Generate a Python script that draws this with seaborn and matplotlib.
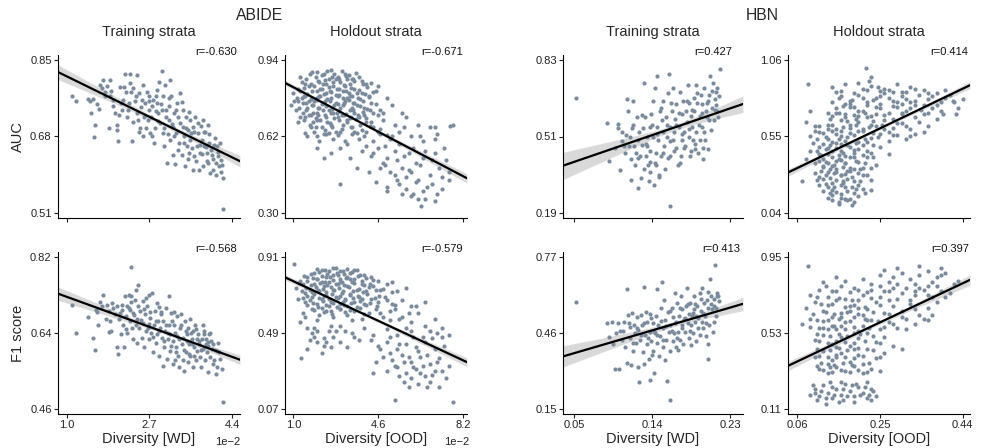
import matplotlib
matplotlib.use("Agg")
import matplotlib.pyplot as plt
import pandas as pd
import seaborn as sns

sns.set_style("ticks")
plt.rcParams['font.family'] = ['Liberation Sans', 'DejaVu Sans']

# ---------------- data (x = diversity, y = score) ----------------
# ABIDE diversity values are given in units of 1e-2
abide_auc_train = [(1.12,0.769),(1.19,0.758),(1.44,0.763),(1.47,0.760),(1.55,0.763),(1.49,0.733),(1.58,0.706),(1.57,0.679),(1.68,0.795),(1.72,0.787),(1.67,0.741),(1.75,0.806),(1.79,0.780),(1.83,0.792),(1.86,0.700),(1.89,0.806),(1.89,0.769),(1.92,0.782),(1.96,0.761),(1.99,0.732),(2.03,0.706),(2.03,0.695),(2.06,0.669),(2.09,0.791),(2.11,0.754),(2.13,0.739),(2.16,0.761),(2.20,0.819),(2.22,0.778),(2.23,0.724),(2.27,0.754),(2.30,0.819),(2.31,0.800),(2.33,0.780),(2.37,0.787),(2.35,0.669),(2.40,0.760),(2.44,0.732),(2.45,0.817),(2.47,0.717),(2.49,0.776),(2.50,0.698),(2.54,0.761),(2.56,0.680),(2.57,0.795),(2.61,0.754),(2.64,0.780),(2.66,0.717),(2.68,0.739),(2.70,0.769),(2.71,0.687),(2.74,0.724),(2.76,0.747),(2.78,0.761),(2.79,0.665),(2.81,0.698),(2.85,0.754),(2.86,0.783),(2.88,0.732),(2.90,0.802),(2.92,0.710),(2.95,0.826),(2.95,0.739),(2.97,0.687),(2.98,0.769),(3.00,0.658),(3.02,0.795),(3.04,0.724),(3.05,0.622),(3.09,0.717),(3.11,0.747),(3.12,0.673),(3.13,0.806),(3.15,0.769),(3.18,0.639),(3.19,0.702),(3.20,0.732),(3.22,0.619),(3.24,0.687),(3.26,0.754),(3.29,0.724),(3.31,0.665),(3.33,0.776),(3.36,0.639),(3.38,0.702),(3.39,0.739),(3.41,0.680),(3.43,0.614),(3.45,0.724),(3.46,0.658),(3.50,0.695),(3.52,0.643),(3.53,0.717),(3.54,0.673),(3.59,0.606),(3.60,0.702),(3.61,0.636),(3.63,0.723),(3.67,0.658),(3.70,0.687),(3.72,0.606),(3.74,0.643),(3.75,0.704),(3.77,0.673),(3.79,0.614),(3.80,0.717),(3.82,0.658),(3.84,0.691),(3.87,0.643),(3.89,0.706),(3.91,0.621),(3.93,0.665),(3.94,0.599),(3.98,0.639),(4.01,0.606),(4.04,0.676),(4.06,0.595),(4.08,0.658),(4.11,0.636),(4.13,0.614),(4.16,0.628),(4.18,0.617),(4.21,0.588),(4.20,0.519),
(1.62,0.752),(1.78,0.770),(1.95,0.748),(2.08,0.728),(2.18,0.790),(2.26,0.740),(2.36,0.712),(2.42,0.771),(2.52,0.745),(2.58,0.723),(2.63,0.700),(2.69,0.758),(2.75,0.680),(2.83,0.737),(2.87,0.715),(2.93,0.752),(2.99,0.700),(3.03,0.740),(3.07,0.686),(3.10,0.765),(3.16,0.707),(3.21,0.680),(3.25,0.740),(3.28,0.650),(3.32,0.710),(3.37,0.757),(3.40,0.666),(3.44,0.700),(3.48,0.630),(3.51,0.735),(3.56,0.688),(3.58,0.655),(3.62,0.690),(3.66,0.625),(3.69,0.710),(3.73,0.662),(3.78,0.640),(3.81,0.690),(3.85,0.656),(3.88,0.625),(3.92,0.685),(3.96,0.650),(4.00,0.630),(4.03,0.660),(4.07,0.620),(4.10,0.645),(4.14,0.665),(4.17,0.600),(2.48,0.690),(2.84,0.770)]

abide_f1_train = [(1.12,0.707),(1.19,0.641),(1.44,0.677),(1.55,0.629),(1.58,0.600),(1.60,0.695),(1.65,0.660),(1.68,0.713),(1.72,0.705),(1.75,0.729),(1.82,0.707),(1.86,0.691),(1.86,0.643),(1.89,0.668),(1.92,0.645),(1.96,0.699),(1.99,0.684),(2.03,0.703),(2.04,0.606),(2.06,0.590),(2.09,0.688),(2.11,0.637),(2.13,0.707),(2.16,0.660),(2.18,0.606),(2.20,0.727),(2.22,0.680),(2.23,0.703),(2.24,0.641),(2.27,0.730),(2.29,0.668),(2.30,0.695),(2.32,0.713),(2.33,0.727),(2.33,0.797),(2.35,0.653),(2.37,0.625),(2.38,0.682),(2.40,0.719),(2.42,0.742),(2.44,0.617),(2.45,0.672),(2.47,0.754),(2.47,0.703),(2.49,0.653),(2.50,0.691),(2.54,0.629),(2.56,0.715),(2.57,0.664),(2.59,0.606),(2.61,0.684),(2.63,0.645),(2.64,0.703),(2.68,0.662),(2.70,0.730),(2.70,0.625),(2.71,0.676),(2.74,0.641),(2.76,0.734),(2.78,0.594),(2.79,0.660),(2.81,0.691),(2.83,0.617),(2.85,0.637),(2.86,0.711),(2.88,0.668),(2.90,0.586),(2.92,0.653),(2.93,0.684),(2.95,0.629),(2.97,0.563),(2.98,0.668),(3.00,0.606),(3.02,0.645),(3.04,0.699),(3.05,0.579),(3.07,0.625),(3.09,0.727),(3.11,0.660),(3.12,0.598),(3.13,0.637),(3.15,0.688),(3.18,0.567),(3.19,0.621),(3.20,0.660),(3.22,0.575),(3.24,0.606),(3.26,0.680),(3.27,0.633),(3.29,0.586),(3.31,0.559),(3.33,0.653),(3.34,0.684),(3.36,0.614),(3.38,0.575),(3.39,0.629),(3.41,0.551),(3.43,0.668),(3.45,0.594),(3.46,0.637),(3.48,0.571),(3.50,0.653),(3.52,0.614),(3.53,0.672),(3.54,0.586),(3.57,0.625),(3.59,0.559),(3.60,0.645),(3.61,0.606),(3.63,0.660),(3.65,0.575),(3.67,0.625),(3.68,0.598),(3.70,0.637),(3.72,0.614),(3.74,0.582),(3.75,0.559),(3.77,0.625),(3.79,0.660),(3.80,0.602),(3.82,0.637),(3.84,0.575),(3.86,0.614),(3.87,0.594),(3.89,0.547),(3.91,0.618),(3.93,0.637),(3.94,0.582),(3.95,0.641),(3.98,0.602),(4.00,0.567),(4.01,0.614),(4.02,0.575),(4.06,0.543),(4.08,0.559),(4.09,0.598),(4.11,0.617),(4.15,0.579),(4.18,0.555),(4.20,0.476),
(1.62,0.690),(1.80,0.672),(1.94,0.712),(2.07,0.672),(2.14,0.694),(2.21,0.650),(2.28,0.700),(2.36,0.688),(2.43,0.660),(2.52,0.670),(2.58,0.697),(2.66,0.652),(2.72,0.690),(2.78,0.630),(2.84,0.668),(2.89,0.645),(2.94,0.690),(2.99,0.622),(3.03,0.660),(3.08,0.640),(3.14,0.610),(3.17,0.668),(3.22,0.640),(3.25,0.595),(3.30,0.625),(3.35,0.660),(3.40,0.600),(3.44,0.645),(3.47,0.620),(3.51,0.590),(3.55,0.640),(3.58,0.615),(3.62,0.585),(3.66,0.650),(3.71,0.622),(3.76,0.600),(3.81,0.645),(3.85,0.625),(3.90,0.610),(3.96,0.620),(4.04,0.600),(4.12,0.595),(2.62,0.722),(2.90,0.702),(3.20,0.690)]

abide_auc_holdout = [(1.3,0.87),(1.7,0.88),(2.0,0.89),(2.3,0.88),(2.6,0.90),(2.9,0.87),(3.2,0.88),(3.5,0.86),(3.8,0.87),(2.1,0.85),(2.5,0.86),(3.0,0.85),(3.4,0.84),(4.1,0.84),(1.5,0.84),(4.6,0.83),
(1.0,0.80),(1.2,0.82),(1.5,0.79),(1.8,0.81),(2.0,0.78),(2.2,0.82),(2.4,0.80),(2.7,0.83),(2.9,0.79),(3.1,0.81),(3.3,0.78),(3.6,0.82),(3.9,0.80),(4.2,0.79),(4.5,0.81),(5.0,0.78),(2.6,0.78),(3.5,0.79),(1.9,0.83),
(0.9,0.75),(1.1,0.73),(1.4,0.76),(1.6,0.74),(1.9,0.77),(2.1,0.74),(2.3,0.76),(2.5,0.73),(2.8,0.76),(3.0,0.74),(3.2,0.77),(3.4,0.73),(3.7,0.75),(4.0,0.74),(4.3,0.76),(4.7,0.73),(5.2,0.75),(5.6,0.72),(2.0,0.72),(2.7,0.72),(3.6,0.72),
(1.2,0.68),(1.5,0.70),(1.7,0.67),(2.0,0.69),(2.2,0.66),(2.4,0.70),(2.6,0.67),(2.9,0.70),(3.1,0.67),(3.3,0.69),(3.5,0.66),(3.8,0.70),(4.1,0.68),(4.4,0.66),(4.8,0.69),(5.3,0.67),(5.8,0.70),(6.3,0.67),(7.0,0.66),(7.8,0.67),(6.8,0.66),
(1.6,0.62),(1.9,0.64),(2.1,0.60),(2.4,0.63),(2.7,0.61),(3.0,0.64),(3.2,0.60),(3.5,0.63),(3.8,0.61),(4.1,0.64),(4.4,0.60),(4.7,0.63),(5.1,0.61),(5.5,0.64),(6.0,0.62),(6.5,0.60),(7.1,0.63),(3.3,0.59),
(2.0,0.57),(2.6,0.55),(3.0,0.57),(3.4,0.53),(3.9,0.56),(4.3,0.54),(4.6,0.57),(5.0,0.53),(5.3,0.56),(5.7,0.54),(6.1,0.57),(6.5,0.53),(7.0,0.55),(7.4,0.57),(2.3,0.53),(4.8,0.51),
(3.7,0.49),(4.2,0.47),(4.9,0.50),(5.3,0.46),(5.6,0.49),(6.0,0.47),(6.4,0.50),(6.8,0.46),(7.2,0.49),(7.6,0.47),(5.8,0.45),(2.98,0.42),
(4.5,0.43),(5.0,0.41),(5.4,0.44),(5.8,0.40),(6.2,0.43),(6.5,0.39),(6.9,0.42),(7.3,0.40),(5.6,0.38),(6.1,0.38),(7.6,0.44),
(6.3,0.36),(7.0,0.35),(6.43,0.33),
(1.35,0.78),(1.65,0.77),(1.85,0.75),(2.15,0.79),(2.35,0.77),(2.55,0.81),(2.75,0.75),(2.95,0.82),(3.15,0.76),(3.35,0.80),(3.55,0.76),(3.75,0.78),(1.75,0.71),(2.05,0.71),(2.45,0.68),(2.85,0.72),(3.05,0.71),(3.45,0.70),(3.85,0.67),(2.25,0.84),(2.8,0.86),(3.3,0.86),(1.95,0.66),(2.3,0.63),(2.8,0.64),(3.6,0.64),(4.0,0.71),(4.4,0.72),(1.4,0.72),(1.2,0.77),
(1.8,0.889),(2.2,0.878),(2.45,0.893),(2.75,0.881),(3.05,0.896),(3.35,0.876),(3.65,0.887),
(1.55,0.861),(1.95,0.871),(2.35,0.858),(2.65,0.869),(2.95,0.859),(3.25,0.872),(3.55,0.862),(3.9,0.853),
(1.35,0.849),(1.75,0.838),(2.05,0.852),(2.4,0.841),(2.7,0.848),(3.15,0.836),(3.6,0.851),(3.95,0.839),(4.3,0.846),
(1.45,0.821),(1.65,0.832),(2.15,0.818),(2.5,0.829),(2.85,0.817),(3.2,0.831),(3.45,0.822),(3.8,0.814),(4.15,0.827),
(1.3,0.809),(1.6,0.798),(2.0,0.811),(2.3,0.796),(2.6,0.807),(2.95,0.794),(3.25,0.812),(3.7,0.801),(4.05,0.796),(4.4,0.808),
(1.15,0.781),(1.45,0.791),(1.75,0.779),(2.1,0.788),(2.45,0.776),(2.8,0.792),(3.1,0.781),(3.4,0.789),(3.85,0.777),(4.2,0.786),
(1.05,0.768),(1.55,0.759),(2.0,0.771),(2.2,0.757),(2.55,0.769),(2.9,0.758),(3.35,0.771),(3.6,0.761),(3.95,0.768),(4.5,0.757),
(1.25,0.741),(1.8,0.751),(2.05,0.738),(2.4,0.749),(2.65,0.737),(3.1,0.752),(3.5,0.74),(3.85,0.748),(4.15,0.736),
(1.55,0.729),(1.85,0.719),(2.25,0.731),(2.6,0.718),(2.95,0.728),(3.25,0.716),(3.55,0.732),(3.95,0.721),(4.25,0.729),(4.8,0.718),
(1.3,0.701),(1.65,0.711),(1.95,0.698),(2.35,0.709),(2.75,0.697),(3.15,0.712),(3.4,0.699),(3.75,0.708),(4.1,0.696),(4.6,0.709),
(1.45,0.689),(1.85,0.679),(2.15,0.691),(2.55,0.678),(2.95,0.688),(3.3,0.681),(3.65,0.692),(4.3,0.679),
(1.75,0.659),(2.35,0.648),(2.65,0.661),(3.05,0.651),(3.45,0.658),(3.9,0.646),(4.25,0.662),(4.7,0.65),
(1.5,0.634),(2.0,0.624),(2.5,0.636),(2.9,0.626),(3.7,0.633),(4.0,0.622),(4.6,0.637),(5.0,0.625),
(4.9,0.58),(5.2,0.62),(5.5,0.59),(5.9,0.55),(6.2,0.51),(6.6,0.56),(6.9,0.52),(7.3,0.45),(5.1,0.47),(5.5,0.42),(5.9,0.48),(6.3,0.44),(6.7,0.41),(7.1,0.38),(6.0,0.37),(6.6,0.36),(5.4,0.52),(4.7,0.49),(5.0,0.39),(7.5,0.52),(4.4,0.55),(4.1,0.58),(6.4,0.62),(7.66,0.665),(7.0,0.61),(5.7,0.66)]

abide_f1_holdout = [(1.03,0.87),(1.31,0.35),(5.32,0.12),(7.8,0.11),
(1.6,0.80),(1.9,0.82),(2.2,0.84),(2.5,0.83),(2.8,0.85),(3.1,0.83),(3.4,0.82),(3.7,0.84),(4.0,0.81),(2.0,0.79),(2.4,0.80),(2.7,0.81),(3.0,0.79),(3.3,0.80),(3.6,0.79),(4.3,0.80),(4.6,0.78),(5.2,0.77),(1.3,0.78),
(1.1,0.74),(1.4,0.76),(1.7,0.73),(1.9,0.76),(2.1,0.72),(2.3,0.75),(2.5,0.77),(2.7,0.73),(2.9,0.76),(3.1,0.72),(3.3,0.75),(3.5,0.77),(3.7,0.73),(3.9,0.76),(4.1,0.72),(4.4,0.75),(4.7,0.73),(5.0,0.76),(5.4,0.72),(5.8,0.74),(2.2,0.77),(3.0,0.77),(1.5,0.71),
(1.2,0.68),(1.5,0.66),(1.8,0.69),(2.0,0.65),(2.2,0.68),(2.4,0.70),(2.6,0.66),(2.8,0.69),(3.0,0.65),(3.2,0.68),(3.4,0.70),(3.6,0.66),(3.8,0.69),(4.0,0.65),(4.3,0.68),(4.6,0.66),(4.9,0.69),(5.2,0.65),(5.6,0.67),(6.0,0.64),(6.6,0.66),(2.5,0.64),(3.3,0.64),
(1.4,0.60),(1.8,0.62),(2.1,0.59),(2.4,0.61),(2.7,0.58),(3.0,0.62),(3.3,0.59),(3.6,0.61),(3.9,0.57),(4.2,0.60),(4.5,0.62),(4.8,0.58),(5.1,0.61),(5.5,0.57),(5.9,0.60),(2.0,0.56),(3.5,0.56),
(1.9,0.52),(2.5,0.50),(3.0,0.53),(3.5,0.49),(4.0,0.52),(4.4,0.48),(5.0,0.51),(5.4,0.48),(6.0,0.50),(6.5,0.47),(7.1,0.49),(1.7,0.45),(2.7,0.47),(3.8,0.45),
(4.6,0.42),(5.0,0.44),(5.4,0.40),(5.8,0.43),(6.2,0.41),(6.6,0.44),(7.0,0.40),(7.4,0.42),(4.8,0.36),(5.2,0.34),(5.6,0.37),(6.0,0.33),(6.4,0.36),(6.8,0.32),(7.2,0.35),(7.6,0.31),(5.0,0.28),(5.4,0.30),(5.8,0.27),(6.2,0.29),(6.6,0.25),(7.0,0.28),(5.7,0.22),(6.3,0.21),(6.7,0.19),(4.4,0.27),(1.6,0.40),(2.3,0.42),
(2.0,0.846),(2.35,0.836),(2.7,0.849),(3.0,0.834),(3.3,0.843),(3.6,0.837),
(1.75,0.818),(2.1,0.827),(2.45,0.814),(2.85,0.824),(3.15,0.816),(3.5,0.828),(3.85,0.813),
(1.45,0.803),(1.85,0.794),(2.2,0.806),(2.55,0.797),(2.9,0.808),(3.25,0.793),(3.75,0.804),(4.1,0.796),
(1.6,0.776),(2.0,0.786),(2.35,0.774),(2.7,0.784),(3.05,0.772),(3.4,0.787),(3.9,0.775),(4.4,0.783),
(1.25,0.764),(1.75,0.754),(2.15,0.766),(2.45,0.753),(2.8,0.763),(3.15,0.755),(3.6,0.767),(4.0,0.756),(4.25,0.762),
(1.55,0.736),(1.95,0.746),(2.25,0.734),(2.6,0.744),(2.95,0.737),(3.35,0.747),(3.8,0.733),(4.2,0.743),(4.8,0.735),
(1.35,0.724),(1.8,0.714),(2.05,0.726),(2.4,0.716),(2.75,0.727),(3.05,0.713),(3.55,0.723),(3.95,0.717),(4.5,0.725),(5.2,0.714),
(1.6,0.696),(1.9,0.706),(2.3,0.694),(2.65,0.705),(3.0,0.697),(3.4,0.707),(3.75,0.693),(4.15,0.704),(4.65,0.696),
(1.4,0.684),(1.7,0.674),(2.1,0.686),(2.5,0.676),(2.9,0.685),(3.2,0.673),(3.55,0.683),(3.9,0.677),(4.45,0.686),(5.0,0.675),
(1.85,0.656),(2.25,0.666),(2.7,0.654),(3.1,0.664),(3.45,0.657),(3.85,0.667),(4.25,0.655),
(1.6,0.644),(2.05,0.634),(2.4,0.646),(2.85,0.636),(3.15,0.645),(3.7,0.633),(4.1,0.643),(4.55,0.637),(5.3,0.645),
(1.9,0.616),(2.2,0.626),(2.6,0.614),(3.0,0.624),(3.4,0.617),(3.85,0.627),
(2.3,0.604),(2.65,0.594),(3.2,0.606),(4.0,0.596),(4.7,0.603),
(4.7,0.40),(5.1,0.38),(5.5,0.43),(5.9,0.36),(6.3,0.39),(6.7,0.37),(7.1,0.33),(5.3,0.31),(5.7,0.33),(6.1,0.30),(6.5,0.31),(6.9,0.26),(7.3,0.28),(5.5,0.25),(6.0,0.24),(6.4,0.27),(6.8,0.22),(7.5,0.24),(5.9,0.19),(7.2,0.19),(4.5,0.33),(5.1,0.47),(6.9,0.46),(7.3,0.47),(6.1,0.47),
(2.0,0.50),(2.6,0.53),(3.2,0.50),(3.6,0.47),(2.3,0.46),(3.0,0.44),(2.0,0.44),(4.3,0.45),(1.8,0.49),(3.3,0.41),
(5.3,0.62),(5.6,0.58),(6.0,0.55),(6.3,0.60),(6.6,0.53),(7.0,0.57),(7.3,0.52),(6.8,0.50),(5.8,0.52),(7.6,0.48),(5.1,0.56),(6.2,0.64),(1.6,0.52),(1.9,0.47),(2.4,0.44),(2.8,0.50),(1.3,0.55),(2.2,0.38),(1.5,0.58),(2.6,0.41)]

hbn_auc_train = [(0.052,0.671),(0.088,0.566),(0.090,0.409),(0.097,0.463),(0.100,0.561),(0.101,0.544),(0.103,0.369),(0.105,0.490),(0.107,0.470),(0.109,0.443),(0.110,0.517),(0.111,0.669),(0.112,0.617),(0.114,0.510),(0.115,0.416),(0.116,0.328),(0.117,0.544),(0.118,0.658),(0.119,0.470),(0.120,0.389),(0.121,0.443),(0.122,0.591),(0.123,0.496),(0.124,0.295),(0.125,0.530),(0.126,0.429),(0.127,0.335),(0.128,0.476),(0.129,0.544),(0.130,0.732),(0.131,0.375),(0.132,0.591),(0.133,0.429),(0.134,0.510),(0.134,0.470),(0.136,0.322),(0.137,0.550),(0.137,0.402),(0.138,0.362),(0.139,0.604),(0.141,0.658),(0.141,0.510),(0.142,0.308),(0.143,0.712),(0.144,0.443),(0.144,0.389),(0.145,0.550),(0.146,0.765),(0.147,0.496),(0.148,0.348),(0.149,0.617),(0.150,0.429),(0.151,0.577),(0.152,0.530),(0.153,0.658),(0.154,0.470),(0.155,0.375),(0.156,0.591),(0.157,0.510),(0.158,0.691),(0.159,0.772),(0.160,0.550),(0.161,0.218),(0.161,0.429),(0.163,0.617),(0.164,0.712),(0.164,0.496),(0.165,0.530),(0.166,0.584),(0.168,0.463),(0.168,0.644),(0.170,0.389),(0.171,0.550),(0.172,0.698),(0.173,0.429),(0.174,0.604),(0.175,0.496),(0.176,0.658),(0.177,0.530),(0.178,0.470),(0.179,0.617),(0.180,0.570),(0.181,0.725),(0.182,0.510),(0.183,0.651),(0.184,0.429),(0.185,0.597),(0.186,0.550),(0.187,0.496),(0.188,0.671),(0.188,0.617),(0.190,0.456),(0.191,0.725),(0.191,0.530),(0.192,0.651),(0.193,0.443),(0.195,0.597),(0.195,0.496),(0.196,0.685),(0.197,0.550),(0.198,0.644),(0.199,0.416),(0.200,0.712),(0.201,0.496),(0.202,0.617),(0.203,0.591),(0.204,0.456),(0.205,0.658),(0.206,0.685),(0.207,0.765),(0.208,0.537),(0.209,0.631),(0.210,0.732),(0.211,0.577),(0.213,0.665),(0.214,0.698),(0.215,0.712),(0.215,0.617),(0.216,0.591),(0.218,0.792),
(0.105,0.530),(0.113,0.470),(0.118,0.560),(0.124,0.420),(0.128,0.600),(0.133,0.480),(0.137,0.450),(0.140,0.560),(0.143,0.400),(0.146,0.520),(0.150,0.630),(0.153,0.440),(0.157,0.560),(0.160,0.490),(0.162,0.650),(0.165,0.450),(0.168,0.560),(0.171,0.610),(0.174,0.520),(0.177,0.460),(0.180,0.660),(0.183,0.540),(0.186,0.620),(0.189,0.480),(0.192,0.690),(0.194,0.560),(0.197,0.610),(0.200,0.530),(0.203,0.650),(0.206,0.580),(0.209,0.700),(0.212,0.620),(0.214,0.640),(0.217,0.680),(0.135,0.390),(0.148,0.340),(0.158,0.420),(0.172,0.400),(0.185,0.450),(0.199,0.460)]

hbn_f1_train = [(0.052,0.586),(0.088,0.499),(0.090,0.442),(0.093,0.505),(0.095,0.414),(0.097,0.312),(0.100,0.499),(0.102,0.312),(0.103,0.469),(0.105,0.433),(0.107,0.505),(0.109,0.401),(0.111,0.638),(0.111,0.338),(0.112,0.534),(0.114,0.440),(0.114,0.486),(0.116,0.329),(0.117,0.542),(0.118,0.388),(0.119,0.492),(0.120,0.459),(0.121,0.420),(0.122,0.525),(0.123,0.322),(0.124,0.472),(0.125,0.260),(0.126,0.433),(0.127,0.534),(0.128,0.492),(0.129,0.381),(0.130,0.646),(0.131,0.335),(0.132,0.453),(0.133,0.544),(0.134,0.414),(0.134,0.505),(0.136,0.355),(0.137,0.268),(0.137,0.466),(0.138,0.538),(0.139,0.427),(0.141,0.499),(0.141,0.388),(0.142,0.296),(0.143,0.459),(0.144,0.531),(0.145,0.638),(0.146,0.420),(0.147,0.492),(0.148,0.368),(0.149,0.446),(0.150,0.564),(0.151,0.668),(0.152,0.401),(0.153,0.479),(0.154,0.596),(0.155,0.512),(0.156,0.433),(0.157,0.264),(0.158,0.544),(0.159,0.466),(0.160,0.185),(0.161,0.388),(0.161,0.492),(0.163,0.564),(0.164,0.427),(0.164,0.525),(0.165,0.459),(0.166,0.623),(0.168,0.401),(0.168,0.505),(0.169,0.583),(0.170,0.466),(0.171,0.531),(0.172,0.433),(0.173,0.609),(0.174,0.492),(0.175,0.557),(0.176,0.414),(0.177,0.518),(0.178,0.466),(0.179,0.570),(0.180,0.642),(0.181,0.499),(0.182,0.538),(0.183,0.440),(0.184,0.583),(0.185,0.492),(0.186,0.531),(0.187,0.459),(0.188,0.557),(0.188,0.609),(0.190,0.505),(0.191,0.427),(0.191,0.531),(0.192,0.570),(0.193,0.479),(0.195,0.623),(0.195,0.453),(0.196,0.551),(0.197,0.505),(0.198,0.642),(0.199,0.479),(0.200,0.583),(0.201,0.531),(0.202,0.446),(0.203,0.596),(0.204,0.414),(0.205,0.629),(0.205,0.355),(0.206,0.492),(0.207,0.681),(0.208,0.609),(0.209,0.557),(0.210,0.466),(0.211,0.505),(0.211,0.570),(0.213,0.737),(0.214,0.531),(0.215,0.623),(0.215,0.609),(0.216,0.609),
(0.098,0.460),(0.106,0.470),(0.113,0.500),(0.118,0.420),(0.122,0.480),(0.127,0.450),(0.131,0.500),(0.135,0.440),(0.139,0.520),(0.142,0.470),(0.146,0.450),(0.150,0.510),(0.153,0.430),(0.156,0.490),(0.160,0.550),(0.163,0.470),(0.166,0.500),(0.169,0.440),(0.172,0.560),(0.175,0.480),(0.178,0.520),(0.181,0.580),(0.184,0.470),(0.187,0.540),(0.190,0.580),(0.193,0.520),(0.196,0.600),(0.199,0.540),(0.202,0.500),(0.205,0.560),(0.208,0.580),(0.211,0.600),(0.214,0.560),(0.217,0.590),(0.140,0.370),(0.155,0.350),(0.170,0.390),(0.185,0.410)]

hbn_auc_holdout = [(0.14,0.88),(0.17,0.90),(0.20,0.91),(0.23,0.89),(0.26,0.87),(0.29,0.90),(0.32,0.88),(0.35,0.86),(0.15,0.85),(0.22,0.86),(0.28,0.85),(0.085,0.90),(0.219,1.01),(0.23,0.95),
(0.14,0.78),(0.16,0.82),(0.18,0.79),(0.20,0.83),(0.22,0.78),(0.24,0.81),(0.26,0.84),(0.28,0.79),(0.30,0.82),(0.32,0.78),(0.34,0.83),(0.36,0.80),(0.38,0.84),(0.40,0.81),(0.418,0.79),(0.17,0.77),(0.25,0.77),
(0.09,0.72),(0.13,0.71),(0.15,0.74),(0.17,0.70),(0.19,0.75),(0.21,0.72),(0.23,0.69),(0.25,0.74),(0.27,0.71),(0.29,0.75),(0.31,0.72),(0.33,0.76),(0.35,0.70),(0.37,0.74),(0.39,0.72),(0.14,0.69),(0.20,0.69),
(0.08,0.65),(0.10,0.62),(0.14,0.63),(0.16,0.66),(0.18,0.61),(0.20,0.65),(0.22,0.68),(0.24,0.62),(0.26,0.66),(0.28,0.61),(0.30,0.64),(0.32,0.60),(0.34,0.65),(0.36,0.62),(0.15,0.60),(0.21,0.60),(0.17,0.68),
(0.09,0.55),(0.11,0.58),(0.13,0.53),(0.15,0.57),(0.17,0.52),(0.19,0.56),(0.21,0.59),(0.23,0.54),(0.25,0.57),(0.27,0.52),(0.29,0.56),(0.31,0.53),(0.33,0.57),(0.14,0.51),(0.20,0.51),(0.16,0.59),
(0.09,0.45),(0.11,0.48),(0.13,0.43),(0.15,0.47),(0.17,0.42),(0.19,0.46),(0.21,0.49),(0.23,0.44),(0.25,0.48),(0.27,0.43),(0.16,0.50),(0.12,0.50),(0.18,0.48),
(0.10,0.37),(0.12,0.40),(0.14,0.35),(0.16,0.39),(0.18,0.34),(0.20,0.38),(0.22,0.41),(0.24,0.36),(0.15,0.33),(0.19,0.41),(0.08,0.40),
(0.11,0.28),(0.13,0.31),(0.15,0.26),(0.17,0.30),(0.19,0.25),(0.21,0.29),(0.23,0.26),(0.14,0.24),(0.18,0.32),(0.071,0.25),
(0.13,0.21),(0.15,0.18),(0.17,0.21),(0.19,0.17),(0.21,0.20),(0.16,0.14),(0.18,0.13),(0.20,0.15),(0.14,0.16),(0.23,0.19),
(0.16,0.55),(0.18,0.63),(0.19,0.44),(0.20,0.72),(0.22,0.51),(0.17,0.37),(0.21,0.34),(0.15,0.71),(0.18,0.77),(0.13,0.60),(0.24,0.70),(0.16,0.29),(0.23,0.63),(0.26,0.60),(0.12,0.35),
(0.16,0.853),(0.19,0.842),(0.25,0.856),(0.30,0.844),
(0.155,0.806),(0.185,0.795),(0.21,0.808),(0.235,0.793),(0.27,0.804),
(0.165,0.756),(0.18,0.744),(0.22,0.757),(0.24,0.746),(0.28,0.754),(0.32,0.743),
(0.155,0.706),(0.19,0.694),(0.215,0.708),(0.26,0.695),(0.30,0.705),
(0.135,0.664),(0.175,0.653),(0.195,0.667),(0.235,0.655),(0.28,0.664),
(0.11,0.617),(0.13,0.626),(0.165,0.614),(0.195,0.627),(0.225,0.615),(0.255,0.624),
(0.10,0.584),(0.12,0.573),(0.14,0.586),(0.18,0.575),(0.20,0.587),(0.235,0.574),(0.27,0.583),
(0.105,0.536),(0.125,0.547),(0.155,0.534),(0.175,0.546),(0.215,0.535),(0.245,0.544),
(0.095,0.504),(0.135,0.494),(0.15,0.507),(0.175,0.493),(0.195,0.505),(0.235,0.495),
(0.105,0.456),(0.125,0.466),(0.16,0.454),(0.20,0.465),(0.22,0.455),
(0.115,0.424),(0.14,0.414),(0.155,0.426),(0.18,0.415),(0.21,0.425),(0.235,0.413),
(0.11,0.386),(0.13,0.375),(0.15,0.384),(0.17,0.374),(0.195,0.387),(0.215,0.376),
(0.12,0.344),(0.135,0.335),(0.165,0.346),(0.19,0.334),(0.23,0.343),
(0.10,0.304),(0.125,0.295),(0.145,0.306),(0.16,0.294),(0.20,0.305),(0.22,0.296),
(0.12,0.264),(0.165,0.255),(0.175,0.266),(0.205,0.254),
(0.11,0.224),(0.145,0.215),(0.16,0.226),(0.185,0.214),(0.20,0.225),
(0.12,0.184),(0.135,0.175),(0.175,0.186),(0.215,0.174),
(0.14,0.124),(0.155,0.115),(0.175,0.126),(0.19,0.114),
(0.115,0.32),(0.135,0.27),(0.15,0.31),(0.165,0.24),(0.185,0.28),(0.125,0.23),(0.14,0.195),(0.16,0.165),(0.17,0.135),(0.195,0.20),(0.105,0.26),(0.13,0.14),(0.155,0.10),(0.185,0.095),(0.145,0.36),(0.125,0.38),(0.175,0.32),(0.205,0.33),(0.11,0.43),(0.14,0.45),(0.165,0.44),(0.13,0.47),(0.155,0.40),
(0.29,0.78),(0.31,0.85),(0.33,0.79),(0.35,0.76),(0.37,0.82),(0.39,0.78),(0.41,0.83),(0.30,0.70),(0.33,0.68),(0.36,0.71),(0.31,0.62),(0.35,0.58),(0.38,0.67),(0.28,0.56),(0.32,0.55),(0.44,0.80),(0.425,0.70),(0.29,0.64),
(0.25,0.82),(0.27,0.86),(0.31,0.80),(0.33,0.87),(0.36,0.84),(0.38,0.76),(0.40,0.86),(0.42,0.78),(0.345,0.73),(0.30,0.77),(0.43,0.74),(0.395,0.70),(0.245,0.88),(0.225,0.92),(0.21,0.87)]

hbn_f1_holdout = [(0.085,0.90),(0.15,0.84),(0.17,0.82),(0.21,0.83),(0.25,0.85),(0.28,0.84),(0.30,0.86),(0.32,0.83),(0.34,0.85),(0.36,0.87),(0.38,0.84),(0.40,0.86),(0.27,0.81),(0.23,0.80),(0.33,0.80),(0.37,0.81),
(0.12,0.81),(0.11,0.77),(0.10,0.70),(0.09,0.74),(0.125,0.79),(0.105,0.73),(0.08,0.67),(0.115,0.69),
(0.13,0.73),(0.15,0.76),(0.17,0.72),(0.19,0.78),(0.21,0.74),(0.23,0.77),(0.25,0.73),(0.27,0.76),(0.29,0.72),(0.31,0.78),(0.33,0.74),(0.35,0.77),(0.37,0.73),(0.39,0.76),(0.41,0.75),(0.16,0.79),
(0.12,0.65),(0.14,0.69),(0.16,0.64),(0.18,0.68),(0.20,0.71),(0.22,0.66),(0.24,0.70),(0.26,0.64),(0.28,0.68),(0.30,0.65),(0.32,0.69),(0.34,0.63),(0.36,0.67),(0.38,0.70),(0.15,0.71),(0.21,0.63),
(0.07,0.58),(0.09,0.61),(0.11,0.56),(0.13,0.60),(0.15,0.55),(0.17,0.59),(0.19,0.62),(0.21,0.57),(0.23,0.60),(0.25,0.55),(0.27,0.59),(0.29,0.56),(0.31,0.61),(0.33,0.58),(0.36,0.60),(0.16,0.62),(0.20,0.54),(0.14,0.57),
(0.10,0.49),(0.12,0.52),(0.14,0.47),(0.16,0.51),(0.18,0.46),(0.20,0.50),(0.22,0.53),(0.24,0.48),(0.26,0.51),(0.28,0.46),(0.15,0.45),(0.19,0.53),(0.30,0.44),
(0.10,0.40),(0.12,0.43),(0.14,0.38),(0.16,0.42),(0.18,0.37),(0.20,0.41),(0.22,0.44),(0.24,0.39),(0.26,0.42),(0.13,0.36),(0.17,0.40),(0.21,0.36),
(0.11,0.33),(0.13,0.31),(0.15,0.34),(0.17,0.32),(0.19,0.35),(0.21,0.31),(0.23,0.33),(0.25,0.32),
(0.09,0.19),(0.10,0.22),(0.11,0.18),(0.12,0.24),(0.13,0.20),(0.14,0.17),(0.15,0.22),(0.16,0.19),(0.17,0.25),(0.18,0.21),(0.19,0.18),(0.20,0.23),(0.21,0.20),(0.22,0.17),(0.23,0.22),(0.135,0.26),(0.165,0.16),(0.195,0.25),(0.225,0.19),
(0.16,0.57),(0.18,0.65),(0.14,0.62),(0.19,0.44),(0.17,0.48),(0.22,0.60),(0.13,0.55),(0.20,0.67),(0.15,0.40),
(0.14,0.764),(0.18,0.754),(0.20,0.766),(0.22,0.755),(0.26,0.763),
(0.155,0.724),(0.185,0.714),(0.23,0.726),(0.27,0.715),
(0.13,0.684),(0.17,0.674),(0.19,0.686),(0.215,0.675),(0.25,0.684),
(0.095,0.636),(0.125,0.645),(0.145,0.634),(0.175,0.646),(0.20,0.635),(0.235,0.644),(0.27,0.633),
(0.105,0.604),(0.12,0.594),(0.155,0.606),(0.18,0.595),(0.215,0.605),(0.245,0.596),
(0.09,0.564),(0.12,0.555),(0.145,0.566),(0.17,0.554),(0.19,0.565),(0.225,0.556),(0.26,0.563),
(0.105,0.524),(0.135,0.515),(0.155,0.526),(0.175,0.514),(0.205,0.525),(0.235,0.516),
(0.11,0.484),(0.13,0.475),(0.15,0.486),(0.19,0.474),(0.215,0.485),(0.25,0.476),
(0.105,0.444),(0.135,0.435),(0.155,0.446),(0.175,0.434),(0.20,0.445),(0.235,0.436),
(0.11,0.404),(0.13,0.395),(0.15,0.406),(0.19,0.394),(0.21,0.405),(0.25,0.396),
(0.115,0.364),(0.145,0.355),(0.165,0.366),(0.185,0.354),(0.225,0.365),
(0.12,0.324),(0.14,0.315),(0.16,0.326),(0.18,0.314),(0.20,0.325),(0.22,0.316),
(0.095,0.24),(0.105,0.16),(0.115,0.21),(0.125,0.17),(0.14,0.23),(0.145,0.19),(0.155,0.15),(0.165,0.22),(0.175,0.18),(0.185,0.24),(0.19,0.15),(0.205,0.19),(0.215,0.23),(0.23,0.16),(0.235,0.21),(0.125,0.14),(0.10,0.20),(0.22,0.26),(0.16,0.26),(0.24,0.18),
(0.105,0.35),(0.135,0.34),
(0.28,0.78),(0.30,0.75),(0.32,0.71),(0.34,0.78),(0.36,0.74),(0.38,0.79),(0.40,0.73),(0.42,0.80),(0.30,0.62),(0.33,0.66),(0.35,0.61),(0.28,0.58),(0.31,0.55),(0.37,0.63),(0.39,0.85),(0.43,0.82),(0.26,0.88),(0.29,0.89),(0.34,0.90),(0.39,0.89),
(0.33,0.76),(0.29,0.80),(0.25,0.79),(0.36,0.79)]

r_labels = ["r=-0.630", "r=-0.671", "r=0.427", "r=0.414",
            "r=-0.568", "r=-0.579", "r=0.413", "r=0.397"]
col_titles = ["Training strata", "Holdout strata", "Training strata", "Holdout strata"]
group_titles = ["ABIDE", "HBN"]
row_labels = ["AUC", "F1 score"]
x_labels = ["Diversity [WD]", "Diversity [OOD]", "Diversity [WD]", "Diversity [OOD]"]

# x ticks (display units) per column, y ticks per panel
x_ticks = [[1.0, 2.7, 4.4], [1.0, 4.6, 8.2], [0.05, 0.14, 0.23], [0.06, 0.25, 0.44]]
x_fmt = ["{:.1f}", "{:.1f}", "{:.2f}", "{:.2f}"]
x_scale = [0.01, 0.01, 1.0, 1.0]
y_ticks = [[0.51, 0.68, 0.85], [0.30, 0.62, 0.94], [0.19, 0.51, 0.83], [0.04, 0.55, 1.06],
           [0.46, 0.64, 0.82], [0.07, 0.49, 0.91], [0.15, 0.46, 0.77], [0.11, 0.53, 0.95]]
panel_data = [abide_auc_train, abide_auc_holdout, hbn_auc_train, hbn_auc_holdout,
              abide_f1_train, abide_f1_holdout, hbn_f1_train, hbn_f1_holdout]

# ---------------- layout / style ----------------
W, H = 985, 448
PT = "#7a8b9e"
col_left = [58, 285, 563, 788]
col_width = [182, 182, 180, 182]
row_top = [55, 252]
row_height = [163, 162]
x_pad = [(0.052, 0.046), (0.049, 0.025), (0.073, 0.083), (0.056, 0.044)]
r_xpos = [[0.984, 0.976, 0.94, 0.989], [0.984, 0.976, 0.987, 0.995]]
ci_level = [90, 70, 90, 70]

fig = plt.figure(figsize=(W / 100, H / 100), dpi=100)

for i, pts in enumerate(panel_data):
    row, col = divmod(i, 4)
    l, w = col_left[col], col_width[col]
    t, h = row_top[row], row_height[row]
    ax = fig.add_axes([l / W, 1 - (t + h) / H, w / W, h / H])

    df = pd.DataFrame(pts, columns=["x", "y"])
    df["x"] = df["x"] * x_scale[col]

    xt = [v * x_scale[col] for v in x_ticks[col]]
    span = xt[-1] - xt[0]
    xlim = (xt[0] - x_pad[col][0] * span, xt[-1] + x_pad[col][1] * span)
    yt = y_ticks[i]
    yspan = yt[-1] - yt[0]
    ylim = (yt[0] - 0.033 * yspan, yt[-1] + 0.033 * yspan)
    ax.set_xlim(xlim)
    ax.set_ylim(ylim)

    sns.regplot(data=df, x="x", y="y", ax=ax, truncate=False, color="black",
                seed=0, ci=ci_level[col],
                scatter_kws=dict(color=PT, s=9, linewidths=0, alpha=1.0, zorder=2),
                line_kws=dict(lw=1.6, zorder=3))
    ax.set_xlim(xlim)
    ax.set_ylim(ylim)

    ax.set_xticks(xt)
    ax.set_xticklabels([x_fmt[col].format(v) for v in x_ticks[col]])
    ax.set_yticks(yt)
    ax.set_yticklabels([f"{v:.2f}" for v in yt])
    ax.tick_params(direction="out", length=3, width=0.8, labelsize=8,
                   colors="#222222", pad=1.5)
    if row == 0:
        ax.tick_params(labelbottom=False)
    for s in ["top", "right"]:
        ax.spines[s].set_visible(False)
    for s in ["left", "bottom"]:
        ax.spines[s].set_linewidth(0.8)
        ax.spines[s].set_color("black")

    ax.set_xlabel(x_labels[col] if row == 1 else "", fontsize=10.5, labelpad=1)
    ax.set_ylabel(row_labels[row] if col == 0 else "", fontsize=10.5, labelpad=4)

    ax.text(r_xpos[row][col], 1.02, r_labels[i], transform=ax.transAxes,
            ha="right", va="center", fontsize=8, color="#111111")

    if row == 1 and col < 2:
        ax.text(1.0 if col == 0 else 1.015, -0.173, "1e\u22122", transform=ax.transAxes,
                ha="right", va="center", fontsize=8, color="#222222")

    if row == 0:
        fig.text((l + w / 2) / W, 1 - 32 / H, col_titles[col], ha="center",
                 va="center", fontsize=10.5)

fig.text(259.5 / W, 1 - 16 / H, group_titles[0], ha="center", va="center", fontsize=11.3)
fig.text(762.5 / W, 1 - 16 / H, group_titles[1], ha="center", va="center", fontsize=11.3)

fig.savefig("out.png", dpi=100)
